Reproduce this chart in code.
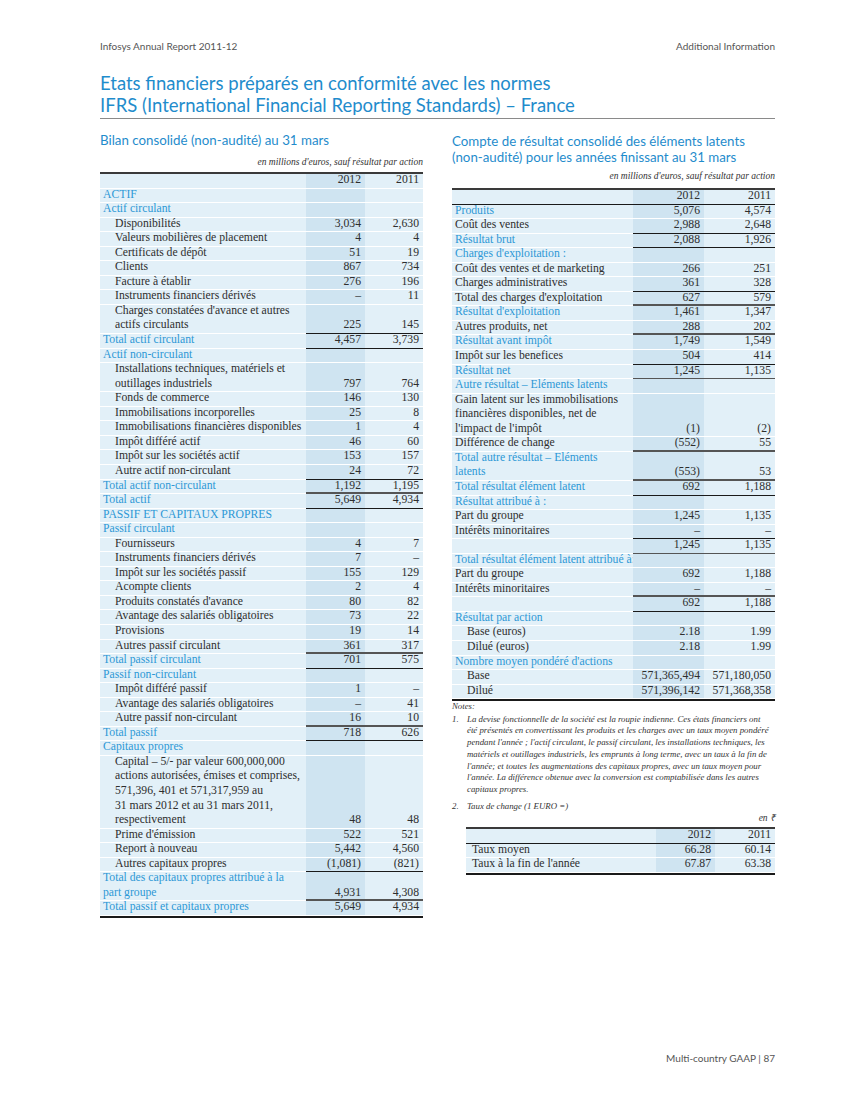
import React from "react";

// ---- data ----
const years = ["2012", "2011"];

const bilanLabels = [
  "ACTIF", "Actif circulant", "Disponibilités", "Valeurs mobilières de placement", "Certificats de dépôt",
  "Clients", "Facture à établir", "Instruments financiers dérivés",
  "Charges constatées d'avance et autres\nactifs circulants", "Total actif circulant", "Actif non-circulant",
  "Installations techniques, matériels et\noutillages industriels", "Fonds de commerce",
  "Immobilisations incorporelles", "Immobilisations financières disponibles", "Impôt différé actif",
  "Impôt sur les sociétés actif", "Autre actif non-circulant", "Total actif non-circulant", "Total actif",
  "PASSIF ET CAPITAUX PROPRES", "Passif circulant", "Fournisseurs", "Instruments financiers dérivés",
  "Impôt sur les sociétés passif", "Acompte clients", "Produits constatés d'avance",
  "Avantage des salariés obligatoires", "Provisions", "Autres passif circulant", "Total passif circulant",
  "Passif non-circulant", "Impôt différé passif", "Avantage des salariés obligatoires",
  "Autre passif non-circulant", "Total passif", "Capitaux propres",
  "Capital – 5/- par valeur 600,000,000\nactions autorisées, émises et comprises,\n571,396, 401 et 571,317,959 au\n31 mars 2012 et au 31 mars 2011,\nrespectivement",
  "Prime d'émission", "Report à nouveau", "Autres capitaux propres",
  "Total des capitaux propres attribué à la\npart groupe", "Total passif et capitaux propres",
];
const bilan2012 = [
  null, null, 3034, 4, 51, 867, 276, 0, 225, 4457, null, 797, 146, 25, 1, 46, 153, 24, 1192, 5649,
  null, null, 4, 7, 155, 2, 80, 73, 19, 361, 701, null, 1, 0, 16, 718, null, 48, 522, 5442, -1081, 4931, 5649,
];
const bilan2011 = [
  null, null, 2630, 4, 19, 734, 196, 11, 145, 3739, null, 764, 130, 8, 4, 60, 157, 72, 1195, 4934,
  null, null, 7, 0, 129, 4, 82, 22, 14, 317, 575, null, 0, 41, 10, 626, null, 48, 521, 4560, -821, 4308, 4934,
];

const compteLabels = [
  "Produits", "Coût des ventes", "Résultat brut", "Charges d'exploitation :", "Coût des ventes et de marketing",
  "Charges administratives", "Total des charges d'exploitation", "Résultat d'exploitation",
  "Autres produits, net", "Résultat avant impôt", "Impôt sur les benefices", "Résultat net",
  "Autre résultat – Eléments latents",
  "Gain latent sur les immobilisations\nfinancières disponibles, net de\nl'impact de l'impôt",
  "Différence de change", "Total autre résultat – Eléments\nlatents", "Total résultat élément latent",
  "Résultat attribué à :", "Part du groupe", "Intérêts minoritaires", "",
  "Total résultat élément latent attribué à:", "Part du groupe", "Intérêts minoritaires", "",
  "Résultat par action", "Base (euros)", "Dilué (euros)", "Nombre moyen pondéré d'actions", "Base", "Dilué",
];
const compte2012 = [
  5076, 2988, 2088, null, 266, 361, 627, 1461, 288, 1749, 504, 1245, null, -1, -552, -553, 692,
  null, 1245, 0, 1245, null, 692, 0, 692, null, 2.18, 2.18, null, 571365494, 571396142,
];
const compte2011 = [
  4574, 2648, 1926, null, 251, 328, 579, 1347, 202, 1549, 414, 1135, null, -2, 55, 53, 1188,
  null, 1135, 0, 1135, null, 1188, 0, 1188, null, 1.99, 1.99, null, 571180050, 571368358,
];

const tauxLabels = ["Taux moyen", "Taux à la fin de l'année"];
const taux2012 = [66.28, 67.87];
const taux2011 = [60.14, 63.38];

// ---- row styles (kept apart from the values) ----
// s = blue heading, t = blue total, i = indented item, p = plain item
const bilanKinds = "ssiiiiiiitsiiiiiiittssiiiiiiiitsiiitsiiiitt".split("");
const bilanTop = [0,0,0,0,0,0,0,0,0,1,0,0,0,0,0,0,0,0,1,2,0,0,0,0,0,0,0,0,0,0,2,0,0,0,0,2,0,0,0,0,0,1,2];
const bilanBottom = [0,0,0,0,0,0,0,0,0,1,0,0,0,0,0,0,0,0,0,1,0,0,0,0,0,0,0,0,0,0,1,0,0,0,0,1,0,0,0,0,0,0,0];
const compteKinds = "tptsppptptptsppttspppspppsiisii".split("");
const compteTop = [0,0,1,0,0,0,1,2,0,2,0,1,0,0,0,2,2,0,0,0,1,0,0,0,2,0,0,0,0,0,0];
const compteBottom = [0,0,1,0,0,0,0,0,0,0,0,2,0,0,0,0,1,0,0,0,2,0,0,0,1,0,0,0,0,0,0];

const BLUE = "#2d98d6";
const TITLE = "#1f8ccc";
const LIGHT = "#e2f0f8";
const DARK = "#cfe4f1";
const TEXT = "#2e2e2e";
const LH = 14.56;
const SERIF = "'Liberation Serif', 'Times New Roman', serif";
const SANS = "Lato, 'Open Sans', sans-serif";

const fmt = (v: number | null) => {
  if (v === null) return "";
  if (v === 0) return "–";
  const a = Math.abs(v);
  const s = Number.isInteger(a) ? a.toLocaleString("en-US") : a.toFixed(2);
  return v < 0 ? `(${s})` : s;
};

// rule lines sit in the white gap between rows
const Rule = ({ at, kind }: { at: "top" | "bottom"; kind: number }) => {
  if (!kind) return null;
  const h = kind === 2 ? 2 : 1;
  const pos = at === "top" ? { top: -h } : { bottom: -h };
  return <div style={{ position: "absolute", left: 0, right: 0, height: h, background: kind === 2 ? "#555" : "#1a1a1a", ...pos }} />;
};

interface TableProps {
  left: number; top: number; widths: number[];
  labels: string[]; a: (number | null)[]; b: (number | null)[];
  kinds?: string[]; tops?: number[]; bottoms?: number[];
  headerLine?: boolean; labelPad?: number;
}

function FinTable({ left, top, widths, labels, a, b, kinds, tops, bottoms, headerLine, labelPad = 3 }: TableProps) {
  const [w0, w1, w2] = widths;
  const total = w0 + w1 + w2;
  const row = (key: string, label: string, va: string, vb: string, kind: string, t: number, bt: number, headerRow = false) => {
    const lines = label ? label.split("\n").length : 1;
    const h = lines * LH;
    const blue = kind === "s" || kind === "t";
    const pad = kind === "i" ? 15 : labelPad;
    const cell = { height: h - 1, marginBottom: 1, display: "flex", alignItems: "flex-end", boxSizing: "border-box" as const, position: "relative" as const };
    const val = { ...cell, justifyContent: "flex-end", paddingRight: 4 };
    return (
      <div key={key} style={{ display: "flex", height: h, position: "relative" }}>
        <div style={{ ...cell, width: w0, background: LIGHT, paddingLeft: pad, color: blue ? BLUE : TEXT, whiteSpace: "pre", lineHeight: `${LH}px` }}>{label}</div>
        <div style={{ ...val, width: w1, background: DARK }}>{va}<Rule at="top" kind={t} /><Rule at="bottom" kind={bt} /></div>
        <div style={{ ...val, width: w2, background: LIGHT }}>{vb}<Rule at="top" kind={t} /><Rule at="bottom" kind={bt} /></div>
        {headerRow && headerLine && <div style={{ position: "absolute", left: 0, right: 0, bottom: 0, height: 1, background: "#1a1a1a" }} />}
      </div>
    );
  };
  return (
    <div style={{ position: "absolute", left, top, width: total, borderTop: "2px solid #3a3a3a", borderBottom: "2px solid #1a1a1a", fontFamily: SERIF, fontSize: 11.7, color: TEXT, lineHeight: `${LH}px` }}>
      {row("h", "", years[0], years[1], "p", 0, 0, true)}
      {labels.map((l, i) => row(String(i), l, fmt(a[i]), fmt(b[i]), kinds ? kinds[i] : "p", tops ? tops[i] : 0, bottoms ? bottoms[i] : 0))}
    </div>
  );
}

const noteLines = [
  "La devise fonctionnelle de la société est la roupie indienne. Ces états financiers ont",
  "été présentés en convertissant les produits et les charges avec un taux moyen pondéré",
  "pendant l'année ; l'actif circulant, le passif circulant, les installations techniques, les",
  "matériels et outillages industriels, les emprunts à long terme, avec un taux à la fin de",
  "l'année; et toutes les augmentations des capitaux propres, avec un taux moyen pour",
  "l'année. La différence obtenue avec la conversion est comptabilisée dans les autres",
  "capitaux propres.",
];

export default function App() {
  const abs = (left: number, top: number, extra: React.CSSProperties = {}): React.CSSProperties => ({ position: "absolute", left, top, ...extra });
  return (
    <div style={{ position: "relative", width: 850, height: 1100, margin: -8, background: "#fff", overflow: "hidden" }}>
      <div style={abs(100, 40, { fontFamily: SANS, fontSize: 10, color: "#555" })}>Infosys Annual Report 2011-12</div>
      <div style={abs(600, 40, { width: 175, textAlign: "right", fontFamily: SANS, fontSize: 10, color: "#555" })}>Additional Information</div>

      <div style={abs(100, 72, { fontFamily: SANS, fontSize: 18.5, lineHeight: "22px", color: TITLE })}>
        Etats financiers préparés en conformité avec les normes<br />
        IFRS (International Financial Reporting Standards) – France
      </div>
      <div style={abs(100, 118, { width: 675, height: 1, background: "#8a8a8a" })} />

      <div style={abs(100, 132, { fontFamily: SANS, fontSize: 13.3, lineHeight: "16px", color: TITLE })}>Bilan consolidé (non-audité) au 31 mars</div>
      <div style={abs(100, 157, { width: 323, textAlign: "right", fontFamily: SERIF, fontStyle: "italic", fontSize: 9.5, color: "#333" })}>en millions d'euros, sauf résultat par action</div>

      <FinTable left={100} top={172} widths={[206, 59, 58]} labels={bilanLabels} a={bilan2012} b={bilan2011}
        kinds={bilanKinds} tops={bilanTop} bottoms={bilanBottom} />

      <div style={abs(452, 133, { fontFamily: SANS, fontSize: 13.3, lineHeight: "16px", color: TITLE })}>
        Compte de résultat consolidé des éléments latents<br />(non-audité) pour les années finissant au 31 mars
      </div>
      <div style={abs(452, 171, { width: 323, textAlign: "right", fontFamily: SERIF, fontStyle: "italic", fontSize: 9.5, color: "#333" })}>en millions d'euros, sauf résultat par action</div>

      <FinTable left={452} top={188} widths={[181, 71, 71]} labels={compteLabels} a={compte2012} b={compte2011}
        kinds={compteKinds} tops={compteTop} bottoms={compteBottom} headerLine />

      <div style={abs(452, 701, { width: 323, fontFamily: SERIF, fontStyle: "italic", fontSize: 8.8, lineHeight: "11.7px", color: "#333", whiteSpace: "nowrap" })}>
        <div>Notes:</div>
        <div style={{ display: "flex", marginTop: 1 }}>
          <span style={{ width: 15, flexShrink: 0 }}>1.</span>
          <span>{noteLines.map((l, i) => <div key={i}>{l}</div>)}</span>
        </div>
        <div style={{ display: "flex", marginTop: 5 }}>
          <span style={{ width: 15, flexShrink: 0 }}>2.</span>
          <span>Taux de change (1 EURO =)</span>
        </div>
      </div>
      <div style={abs(700, 811, { width: 75, textAlign: "right", fontFamily: SERIF, fontStyle: "italic", fontSize: 9.5, color: "#333" })}>en ₹</div>

      <FinTable left={466} top={827} widths={[190, 59, 60]} labels={tauxLabels} a={taux2012} b={taux2011}
        headerLine labelPad={6} />

      <div style={abs(600, 1052, { width: 175, textAlign: "right", fontFamily: SANS, fontSize: 10, color: "#555" })}>Multi-country GAAP | 87</div>
    </div>
  );
}
